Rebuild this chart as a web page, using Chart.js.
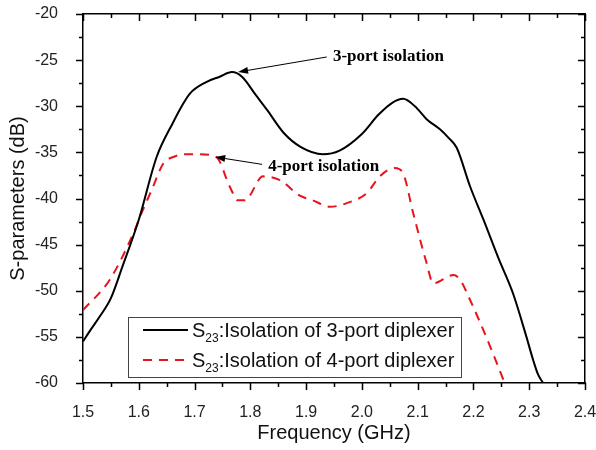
<!DOCTYPE html>
<html>
<head>
<meta charset="utf-8">
<script src="https://cdn.jsdelivr.net/npm/chart.js@4.4.0/dist/chart.umd.min.js"></script>
<style>
  html, body { margin: 0; padding: 0; background: #fff; }
  #wrap { width: 596px; height: 450px; }
</style>
</head>
<body>
<div id="wrap"><canvas id="chart"></canvas></div>
<script>
// ── Data ─────────────────────────────────────────────────
const xTicks = [1.5, 1.6, 1.7, 1.8, 1.9, 2.0, 2.1, 2.2, 2.3, 2.4];
const yTicks = [-60, -55, -50, -45, -40, -35, -30, -25, -20];

// S23, 3-port diplexer
const freq3 = [1.50, 1.513, 1.53, 1.55, 1.57, 1.60, 1.632, 1.662, 1.677, 1.692, 1.72, 1.745, 1.767, 1.785, 1.81, 1.83,
               1.86, 1.89, 1.93, 1.96, 2.00, 2.03, 2.055, 2.074, 2.095, 2.116, 2.14, 2.155, 2.17, 2.194, 2.218, 2.245,
               2.271, 2.295, 2.307, 2.316, 2.325];
const iso3  = [-55.5, -54.3, -52.8, -50.8, -47.5, -42.3, -35.5, -31.7, -30.0, -28.6, -27.4, -26.8, -26.3, -26.8, -28.8, -30.4,
               -32.9, -34.4, -35.2, -34.8, -33.0, -30.9, -29.6, -29.2, -30.0, -31.4, -32.5, -33.4, -34.5, -38.7, -42.3, -46.5,
               -50.3, -55.0, -57.5, -59.1, -60.0];

// S23, 4-port diplexer
const freq4 = [1.50, 1.548, 1.593, 1.602, 1.623, 1.644, 1.662, 1.685, 1.709, 1.739, 1.763, 1.778, 1.79, 1.823, 1.853,
               1.889, 1.912, 1.943, 1.973, 2.009, 2.032, 2.059, 2.074, 2.092, 2.116, 2.128, 2.164, 2.176, 2.194, 2.218,
               2.235, 2.256];
const iso4  = [-52.1, -48.8, -43.4, -42.0, -39.1, -36.2, -35.5, -35.2, -35.2, -35.5, -38.7, -40.2, -40.2, -37.6, -38.0,
               -39.7, -40.2, -40.9, -40.5, -39.4, -37.6, -36.7, -37.3, -41.6, -47.0, -49.2, -48.3, -48.8, -51.0, -54.3,
               -56.8, -60.0];

const seriesNames = [':Isolation of 3-port diplexer', ':Isolation of 4-port diplexer'];

const SANS  = '"Liberation Sans", Arial, sans-serif';
const SERIF = '"Liberation Serif", "Times New Roman", serif';

const toPoints = (xs, ys) => xs.map((x, i) => ({ x, y: ys[i] }));
const mids = arr => arr.slice(1).map((v, i) => (v + arr[i]) / 2);

// ── Frame ticks: outward on bottom/left, inward on top/right ──
const frameTicks = {
    id: 'frameTicks',
    afterDatasetsDraw(chart) {
        const { ctx, chartArea: a, scales } = chart;
        const xs = [...xTicks.map(v => [v, 7]), ...mids(xTicks).map(v => [v, 4])];
        const ys = [...yTicks.map(v => [v, 7]), ...mids(yTicks).map(v => [v, 4])];
        ctx.save();
        ctx.strokeStyle = '#000';
        ctx.lineWidth = 1.5;
        ctx.beginPath();
        xs.forEach(([v, len]) => {
            const pb = Math.round(scales.x.getPixelForValue(v)) + 0.5;
            ctx.moveTo(pb, a.bottom); ctx.lineTo(pb, a.bottom + len);
            const pt = Math.round(scales.x2.getPixelForValue(v)) + 0.5;
            ctx.moveTo(pt, a.top); ctx.lineTo(pt, a.top + len);
        });
        ys.forEach(([v, len]) => {
            const pl = Math.round(scales.y.getPixelForValue(v)) + 0.5;
            ctx.moveTo(a.left, pl); ctx.lineTo(a.left - len, pl);
            const pr = Math.round(scales.y2.getPixelForValue(v)) + 0.5;
            ctx.moveTo(a.right, pr); ctx.lineTo(a.right - len, pr);
        });
        ctx.stroke();
        ctx.restore();
    }
};

// ── Arrow annotations ────────────────────────────────────
const notes = [
    { text: '3-port isolation', at: [1.948, -24.66], tail: [1.937, -24.66], head: [1.778, -26.29] },
    { text: '4-port isolation', at: [1.832, -36.55], tail: [1.821, -36.3], head: [1.737, -35.5] },
];

const arrowNotes = {
    id: 'arrowNotes',
    afterDatasetsDraw(chart) {
        const { ctx, scales: { x, y } } = chart;
        ctx.save();
        ctx.fillStyle = '#000';
        ctx.strokeStyle = '#000';
        ctx.lineWidth = 1;
        notes.forEach(n => {
            const tx = x.getPixelForValue(n.tail[0]), ty = y.getPixelForValue(n.tail[1]);
            const hx = x.getPixelForValue(n.head[0]), hy = y.getPixelForValue(n.head[1]);
            const ang = Math.atan2(hy - ty, hx - tx);
            const L = 10, W = 3.5;
            const bx = hx - L * Math.cos(ang), by = hy - L * Math.sin(ang);
            ctx.beginPath(); ctx.moveTo(tx, ty); ctx.lineTo(bx, by); ctx.stroke();
            ctx.beginPath();
            ctx.moveTo(hx, hy);
            ctx.lineTo(bx + W * Math.sin(ang), by - W * Math.cos(ang));
            ctx.lineTo(bx - W * Math.sin(ang), by + W * Math.cos(ang));
            ctx.closePath(); ctx.fill();

            ctx.font = `bold 17px ${SERIF}`;
            ctx.textAlign = 'left';
            ctx.textBaseline = 'middle';
            ctx.fillText(n.text, x.getPixelForValue(n.at[0]), y.getPixelForValue(n.at[1]));
        });
        ctx.restore();
    }
};

// ── Boxed legend with subscripts ─────────────────────────
const boxLegend = {
    id: 'boxLegend',
    afterDraw(chart) {
        const { ctx } = chart;
        const box = { l: 128, t: 317, r: 461, b: 377 };
        ctx.save();
        ctx.fillStyle = '#fff';
        ctx.fillRect(box.l, box.t, box.r - box.l, box.b - box.t);
        ctx.strokeStyle = '#444';
        ctx.lineWidth = 1;
        ctx.strokeRect(box.l + 0.5, box.t + 0.5, box.r - box.l, box.b - box.t);

        chart.data.datasets.forEach((ds, i) => {
            const ly = 330 + i * 30;
            ctx.strokeStyle = ds.borderColor;
            ctx.lineWidth = ds.borderWidth;
            ctx.setLineDash(ds.borderDash || []);
            ctx.beginPath(); ctx.moveTo(143, ly); ctx.lineTo(188, ly); ctx.stroke();
            ctx.setLineDash([]);

            const base = ly + 6.5;
            let cx = 192;
            ctx.fillStyle = '#111';
            ctx.textAlign = 'left';
            ctx.textBaseline = 'alphabetic';
            ctx.font = `20px ${SANS}`;
            ctx.fillText('S', cx, base);
            cx += ctx.measureText('S').width;
            ctx.font = `12px ${SANS}`;
            ctx.fillText('23', cx, base + 5.5);
            cx += ctx.measureText('23').width;
            ctx.font = `20px ${SANS}`;
            ctx.fillText(seriesNames[i], cx, base);
        });
        ctx.restore();
    }
};

const fixedTicks = vals => s => { s.ticks = vals.map(v => ({ value: v })); };
// fixed axis thickness, and no extra room for overhanging tick labels
const fitH = h => s => { s.height = h; s.paddingLeft = 0; s.paddingRight = 0; };
const fitW = w => s => { s.width = w; s.paddingTop = 0; s.paddingBottom = 0; };

new Chart(document.getElementById('chart'), {
    type: 'line',
    data: {
        datasets: [
            {
                label: 'S23' + seriesNames[0],
                data: toPoints(freq3, iso3),
                borderColor: '#000',
                borderWidth: 2,
                pointRadius: 0,
                cubicInterpolationMode: 'monotone',
            },
            {
                label: 'S23' + seriesNames[1],
                data: toPoints(freq4, iso4),
                borderColor: '#e8141c',
                borderWidth: 2,
                borderDash: [9, 7],
                pointRadius: 0,
                cubicInterpolationMode: 'monotone',
            },
        ],
    },
    options: {
        responsive: true,
        maintainAspectRatio: false,
        animation: false,
        layout: { padding: 0 },
        plugins: { legend: { display: false }, tooltip: { enabled: false } },
        scales: {
            x: {
                type: 'linear', position: 'bottom', min: 1.5, max: 2.4,
                afterBuildTicks: fixedTicks(xTicks),
                afterFit: fitH(67),
                grid: { display: false },
                border: { color: '#000', width: 1.5 },
                ticks: { callback: v => v.toFixed(1), font: { family: SANS, size: 16 }, color: '#222', padding: 12, maxRotation: 0, autoSkip: false },
                title: { display: true, text: 'Frequency (GHz)', font: { family: SANS, size: 20 }, color: '#111', padding: { top: 0, bottom: 5 } },
            },
            y: {
                type: 'linear', position: 'left', min: -60, max: -20,
                afterBuildTicks: fixedTicks(yTicks),
                afterFit: fitW(83),
                grid: { display: false },
                border: { color: '#000', width: 1.5 },
                ticks: { font: { family: SANS, size: 16 }, color: '#222', padding: 17, autoSkip: false },
                title: { display: true, text: 'S-parameters (dB)', font: { family: SANS, size: 20 }, color: '#111', padding: { top: 6, bottom: 0 } },
            },
            x2: {
                type: 'linear', position: 'top', min: 1.5, max: 2.4,
                afterBuildTicks: fixedTicks(xTicks),
                afterFit: fitH(14),
                grid: { display: false },
                border: { color: '#000', width: 1.5 },
                ticks: { display: false },
            },
            y2: {
                type: 'linear', position: 'right', min: -60, max: -20,
                afterBuildTicks: fixedTicks(yTicks),
                afterFit: fitW(11),
                grid: { display: false },
                border: { color: '#000', width: 1.5 },
                ticks: { display: false },
            },
        },
    },
    plugins: [frameTicks, arrowNotes, boxLegend],
});
</script>
</body>
</html>
